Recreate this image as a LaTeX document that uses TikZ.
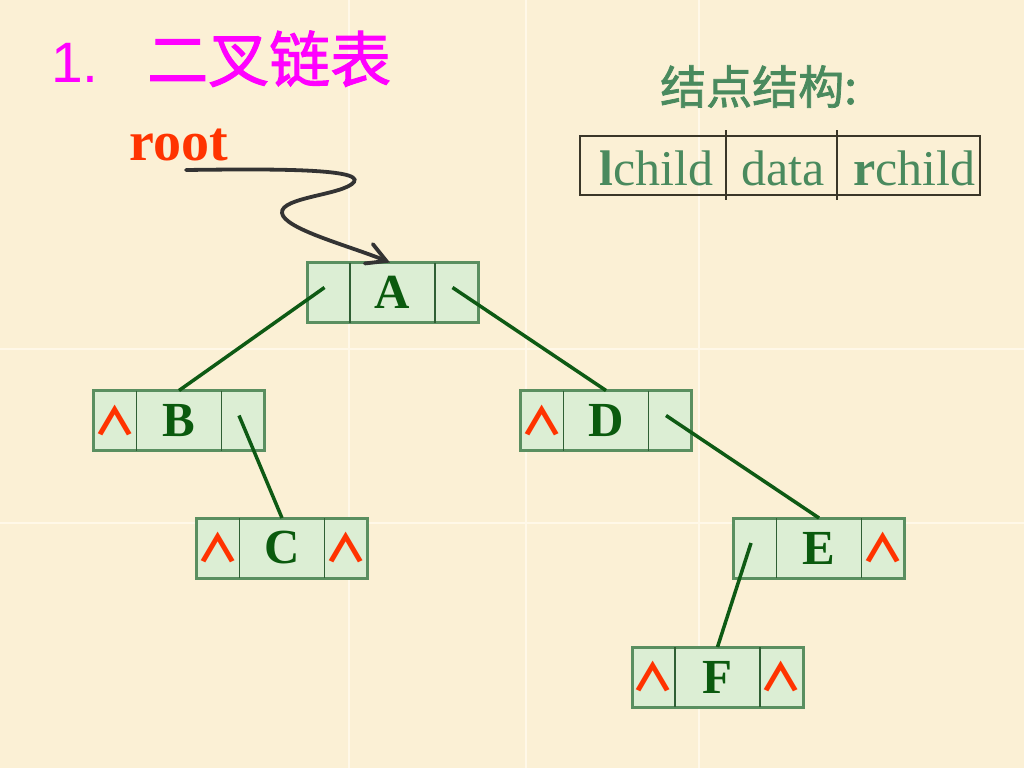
\documentclass[tikz,border=0pt]{standalone}
\usepackage{fontspec}
\usepackage{graphicx}
\setmainfont{Liberation Serif}
\newfontfamily\arialf{Liberation Sans}
\newfontfamily\cjkf{Noto Sans CJK SC}
\newfontfamily\cjkmed[FakeBold=1.6]{Noto Sans CJK SC}
\usetikzlibrary{arrows.meta}
\definecolor{bg}{HTML}{FBF0D5}
\definecolor{bgline}{HTML}{FFF8E8}
\definecolor{boxfill}{HTML}{DCEED4}
\definecolor{boxline}{HTML}{5A8F60}
\definecolor{divline}{HTML}{2F5F34}
\definecolor{connc}{HTML}{0E5A14}
\definecolor{lettc}{HTML}{0B5A0E}
\definecolor{caretc}{HTML}{FF3300}
\definecolor{titlec}{HTML}{FF00FF}
\definecolor{tabgreen}{HTML}{4A8A5E}
\definecolor{tabline}{HTML}{3A3628}
\definecolor{arrc}{HTML}{333333}
\newcommand\nilsym{\makebox[0pt][c]{\raisebox{-1pt}{\scalebox{1.08}[0.97]{∧}}}}
\newcommand\mklnode[6]{%
  \node[lbox] (#1) at (#2,#3) {};
  \node[lcell,anchor=west] (#1L) at (#1.west) {#4};
  \node[dcell] (#1D) at (#1.center) {#5};
  \node[lcell,anchor=east] (#1R) at (#1.east) {#6};
  \draw[ldiv] (#1L.north east) -- (#1L.south east);
  \draw[ldiv] (#1R.north west) -- (#1R.south west);
}
\begin{document}
\begin{tikzpicture}[x=1pt,y=-1pt,
  lbox/.style={draw=boxline,line width=3pt,fill=boxfill,minimum width=171pt,minimum height=60pt,inner sep=0pt,outer sep=0pt},
  lcell/.style={minimum width=43pt,minimum height=60pt,inner sep=0pt,outer sep=0pt,text=caretc,font=\cjkf\bfseries\fontsize{40}{40}\selectfont},
  dcell/.style={minimum width=85pt,minimum height=60pt,inner sep=0pt,outer sep=0pt,text=lettc,font=\bfseries\fontsize{49}{49}\selectfont},
  ldiv/.style={draw=divline,line width=1.4pt},
  conn/.style={draw=connc,line width=3.5pt},
  tabtext/.style={text=tabgreen,font=\fontsize{50}{50}\selectfont,inner sep=0pt},
  tabl/.style={draw=tabline,line width=1.3pt},
  rootarr/.style={draw=arrc,line width=3.8pt,line cap=round,-{Straight Barb[length=19pt,width=21pt,line cap=round]}}
]
\useasboundingbox (0,0) rectangle (1024,768);
\fill[bg] (0,0) rectangle (1024,768);
\foreach \xx in {349,526,699} \draw[bgline,line width=1.5pt] (\xx,0) -- (\xx,768);
\foreach \yy in {349,523} \draw[bgline,line width=1.5pt] (0,\yy) -- (1024,\yy);

% title
\node[anchor=base west,inner sep=0pt,text=titlec,font=\arialf\fontsize{57}{57}\selectfont] (num) at (51,82) {1.};
\node[anchor=base west,inner sep=0pt,text=titlec,font=\cjkmed\fontsize{61}{61}\selectfont] (title) at (147,82) {二叉链表};

% node structure
\node[anchor=base west,inner sep=0pt,text=tabgreen,font=\cjkmed\fontsize{46}{46}\selectfont] (struct) at (660,104) {结点结构:};
\node[tabl,minimum width=400pt,minimum height=59pt,inner sep=0pt] (tab) at (780,165.5) {};
\draw[tabl] (726,130) -- (726,200);
\draw[tabl] (837,130) -- (837,200);
\node[tabtext,anchor=base west] (t1) at (599,185) {\textbf{l}child};
\node[tabtext,anchor=base west] (t2) at (741,185) {data};
\node[tabtext,anchor=base west] (t3) at (853,185) {\textbf{r}child};

% root
\node[anchor=base west,inner sep=0pt,text=caretc,font=\bfseries\fontsize{56}{56}\selectfont] (root) at (129,160) {root};

% list nodes
\mklnode{A}{392.5}{292.5}{}{A}{}
\mklnode{B}{179}{420.5}{\nilsym}{B}{}
\mklnode{D}{606}{420.5}{\nilsym}{D}{}
\mklnode{C}{282}{548}{\nilsym}{C}{\nilsym}
\mklnode{E}{819}{548}{}{E}{\nilsym}
\mklnode{F}{717.5}{677}{\nilsym}{F}{\nilsym}

% root arrow
\coordinate (rs) at (186,170);
\coordinate (atip) at ([xshift=-2.5pt]AD.north);
\draw[rootarr] (rs) .. controls (262,169) and (364,168) .. (354,182)
  .. controls (344,195) and (280,197) .. (282,213)
  .. controls (284,229) and (350,246) .. (atip);

% connectors
\draw[conn] ([xshift=-4pt,yshift=5pt]AL.center) -- (B.north);
\draw[conn] ([xshift=-4pt,yshift=5pt]AR.center) -- (D.north);
\draw[conn] ([xshift=-4pt,yshift=5pt]BR.center) -- (C.north);
\draw[conn] ([xshift=-4pt,yshift=5pt]DR.center) -- (E.north);
\draw[conn] ([xshift=-4pt,yshift=5pt]EL.center) -- (F.north);
\end{tikzpicture}
\end{document}
